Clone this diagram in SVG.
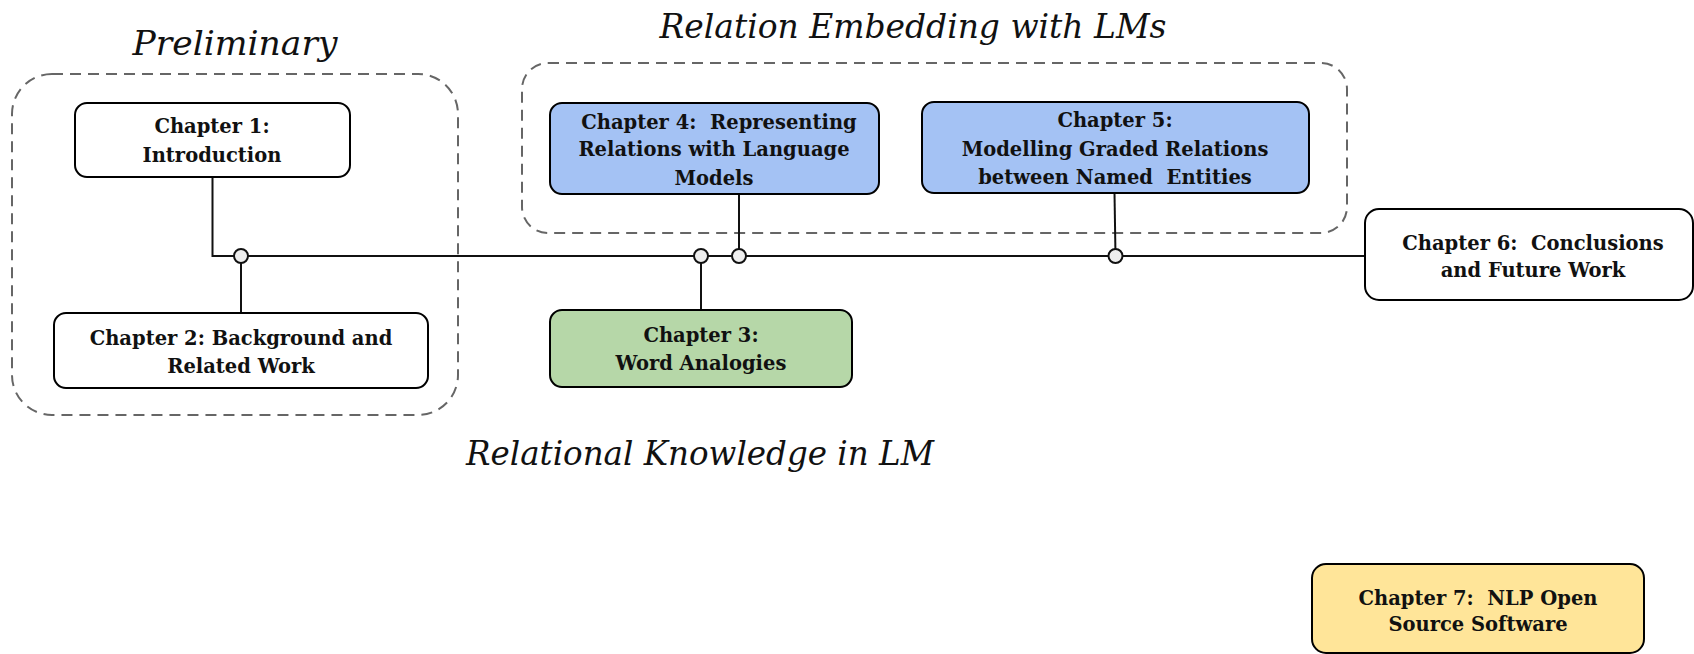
<svg xmlns="http://www.w3.org/2000/svg" width="1694" height="654" viewBox="0 0 1694 654">
<style>
.grp{fill:none;stroke:#666;stroke-width:2;stroke-dasharray:11 7}
.node{stroke:#000;stroke-width:2}
.t{font-family:"DejaVu Serif","Liberation Serif",serif;font-weight:bold;font-size:19.5px;text-anchor:middle;fill:#111;white-space:pre}
.title{font-family:"DejaVu Serif","Liberation Serif",serif;font-style:italic;font-size:34px;text-anchor:middle;fill:#111}
.conn{fill:none;stroke:#111;stroke-width:2}
.dot{fill:#eeeeee;stroke:#111;stroke-width:2}
</style>
<rect width="1694" height="654" fill="#fff"/>
<g id="group-preliminary">
<rect class="grp" x="12" y="74" width="446" height="341" rx="40"/>
<text class="title" x="235" y="55" textLength="205" lengthAdjust="spacingAndGlyphs">Preliminary</text>
</g>
<g id="group-relation-embedding">
<rect class="grp" x="522" y="63" width="825" height="170" rx="26"/>
<text class="title" x="913" y="38" textLength="507" lengthAdjust="spacingAndGlyphs">Relation Embedding with LMs</text>
</g>
<g id="group-relational-knowledge">
<text class="title" x="700" y="465" textLength="468" lengthAdjust="spacingAndGlyphs">Relational Knowledge in LM</text>
</g>
<g id="connectors">
<path class="conn" d="M212.5 177 V256 H1365"/>
<path class="conn" d="M241 256 V313"/>
<path class="conn" d="M701 256 V310"/>
<path class="conn" d="M739 194 V256"/>
<path class="conn" d="M1114.5 193 L1115.5 256"/>
<circle class="dot" cx="241" cy="256" r="7"/>
<circle class="dot" cx="701" cy="256" r="7"/>
<circle class="dot" cx="739" cy="256" r="7"/>
<circle class="dot" cx="1115.5" cy="256" r="7"/>
</g>
<g id="ch1">
<rect class="node" x="75" y="103" width="275" height="74" rx="12" fill="#fff"/>
<text class="t" x="212" y="133">Chapter 1:</text>
<text class="t" x="212" y="162">Introduction</text>
</g>
<g id="ch2">
<rect class="node" x="54" y="313" width="374" height="75" rx="12" fill="#fff"/>
<text class="t" x="241" y="345">Chapter 2: Background and</text>
<text class="t" x="241" y="373">Related Work</text>
</g>
<g id="ch3">
<rect class="node" x="550" y="310" width="302" height="77" rx="12" fill="#b6d7a8"/>
<text class="t" x="701" y="342">Chapter 3:</text>
<text class="t" x="701" y="370">Word Analogies</text>
</g>
<g id="ch4">
<rect class="node" x="550" y="103" width="329" height="91" rx="12" fill="#a4c2f4"/>
<text class="t" x="719" y="129">Chapter 4:  Representing</text>
<text class="t" x="714" y="156">Relations with Language</text>
<text class="t" x="714" y="185">Models</text>
</g>
<g id="ch5">
<rect class="node" x="922" y="102" width="387" height="91" rx="12" fill="#a4c2f4"/>
<text class="t" x="1115" y="127">Chapter 5:</text>
<text class="t" x="1115" y="156">Modelling Graded Relations</text>
<text class="t" x="1115" y="184">between Named  Entities</text>
</g>
<g id="ch6">
<rect class="node" x="1365" y="209" width="328" height="91" rx="14" fill="#fff"/>
<text class="t" x="1533" y="249.5">Chapter 6:  Conclusions</text>
<text class="t" x="1533" y="277">and Future Work</text>
</g>
<g id="ch7">
<rect class="node" x="1312" y="564" width="332" height="89" rx="14" fill="#ffe599"/>
<text class="t" x="1478" y="605">Chapter 7:  NLP Open</text>
<text class="t" x="1478" y="631">Source Software</text>
</g>
</svg>
